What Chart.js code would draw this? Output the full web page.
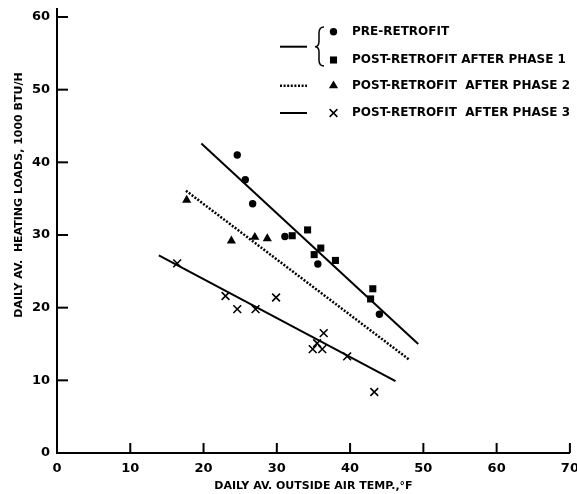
<!DOCTYPE html>
<html>
<head>
<meta charset="utf-8">
<script src="https://cdn.jsdelivr.net/npm/chart.js@4.4.0/dist/chart.umd.min.js"></script>
<style>
  body { margin: 0; background: #fff; }
</style>
</head>
<body>
<canvas id="loadChart" width="577" height="494"></canvas>
<script>

// pre-retrofit (circles)
const preTemp = [24.6, 25.7, 26.7, 31.1, 35.6, 44.0];
const preLoad = [41.0, 37.6, 34.3, 29.8, 26.0, 19.1];

// post-retrofit after phase 1 (squares)
const ph1Temp = [32.1, 34.2, 35.1, 36.0, 38.0, 42.8, 43.1];
const ph1Load = [29.9, 30.7, 27.3, 28.2, 26.5, 21.2, 22.6];

// post-retrofit after phase 2 (triangles)
const ph2Temp = [17.7, 23.8, 27.0, 28.7];
const ph2Load = [34.8, 29.2, 29.7, 29.5];

// post-retrofit after phase 3 (crosses)
const ph3Temp = [16.4, 23.0, 24.6, 27.1, 29.9, 34.9, 35.5, 36.2, 36.4, 39.6, 43.3];
const ph3Load = [26.1, 21.6, 19.8, 19.8, 21.4, 14.3, 15.1, 14.3, 16.5, 13.3, 8.4];

// fitted lines (end points)
const fitPreTemp = [19.7, 49.3];
const fitPreLoad = [42.6, 15.0];
const fitPh2Temp = [17.6, 48.0];
const fitPh2Load = [36.1, 12.9];
const fitPh3Temp = [13.9, 46.2];
const fitPh3Load = [27.2, 9.9];

const xTicks = [0, 10, 20, 30, 40, 50, 60, 70];
const yTicks = [0, 10, 20, 30, 40, 50, 60];

const legendLabels = [
    "PRE-RETROFIT",
    "POST-RETROFIT AFTER PHASE 1",
    "POST-RETROFIT  AFTER PHASE 2",
    "POST-RETROFIT  AFTER PHASE 3"
];
const xTitle = "DAILY AV. OUTSIDE AIR TEMP.,\u00B0F";
const yTitle = "DAILY AV.  HEATING LOADS, 1000 BTU/H";

function toPoints(xs, ys) {
    return xs.map((x, i) => ({ x: x, y: ys[i] }));
}

const FONT = "DejaVu Sans";
Chart.defaults.font.family = FONT;
Chart.defaults.color = "#000";

const DOTS = [2, 1.6];

function lineSet(xs, ys, dash) {
    return {
        data: toPoints(xs, ys),
        showLine: true,
        borderColor: "#000",
        borderWidth: dash ? 2.5 : 2,
        borderDash: dash || [],
        pointRadius: 0,
        fill: false
    };
}

function markSet(xs, ys, style, radius) {
    return {
        data: toPoints(xs, ys),
        pointStyle: style,
        pointRadius: radius,
        pointBackgroundColor: "#000",
        pointBorderColor: "#000",
        pointBorderWidth: style === "crossRot" ? 1.6 : 0
    };
}

// extras: inward tick marks, y title, hand lettered legend
const extras = {
    id: "extras",
    afterDraw(chart) {
        const ctx = chart.ctx;
        const xs = chart.scales.x;
        const ys = chart.scales.y;
        const area = chart.chartArea;

        ctx.save();
        ctx.strokeStyle = "#000";
        ctx.lineWidth = 2;

        // axis stub above 60
        ctx.beginPath();
        ctx.moveTo(area.left, area.top);
        ctx.lineTo(area.left, area.top - 9);
        ctx.stroke();

        xTicks.forEach(v => {
            if (v === 0) return;
            const px = xs.getPixelForValue(v);
            ctx.beginPath();
            ctx.moveTo(px, area.bottom);
            ctx.lineTo(px, area.bottom - 10);
            ctx.stroke();
        });
        yTicks.forEach(v => {
            if (v === 0) return;
            const py = ys.getPixelForValue(v);
            ctx.beginPath();
            ctx.moveTo(area.left, py);
            ctx.lineTo(area.left + 11, py);
            ctx.stroke();
        });

        // y title
        ctx.fillStyle = "#000";
        ctx.font = "bold 11px '" + FONT + "'";
        ctx.textAlign = "center";
        ctx.textBaseline = "middle";
        ctx.save();
        ctx.translate(19, 195);
        ctx.rotate(-Math.PI / 2);
        ctx.fillText(yTitle, 0, 0);
        ctx.restore();

        // legend
        const rows = [31.7, 60, 85.7, 113];
        const styles = [
            { pointStyle: "circle", radius: 3.7, borderWidth: 0 },
            { pointStyle: "rect", radius: 5, borderWidth: 0 },
            { pointStyle: "triangle", radius: 5.3, borderWidth: 0 },
            { pointStyle: "crossRot", radius: 5.5, borderWidth: 1.6 }
        ];
        ctx.lineWidth = 2;
        ctx.beginPath();
        ctx.moveTo(280, 46.7);
        ctx.lineTo(307, 46.7);
        ctx.stroke();

        ctx.lineWidth = 2.5;
        ctx.setLineDash(DOTS);
        ctx.beginPath();
        ctx.moveTo(280, 85.7);
        ctx.lineTo(307, 85.7);
        ctx.stroke();
        ctx.setLineDash([]);

        ctx.lineWidth = 2;
        ctx.beginPath();
        ctx.moveTo(280, 113);
        ctx.lineTo(307, 113);
        ctx.stroke();

        // brace
        ctx.lineWidth = 1.5;
        ctx.beginPath();
        ctx.moveTo(324, 27);
        ctx.quadraticCurveTo(319, 27, 319, 33);
        ctx.lineTo(319, 41);
        ctx.quadraticCurveTo(319, 46.7, 315, 46.7);
        ctx.quadraticCurveTo(319, 46.7, 319, 52);
        ctx.lineTo(319, 60);
        ctx.quadraticCurveTo(319, 66, 324, 66);
        ctx.stroke();

        ctx.font = "bold 12px '" + FONT + "'";
        ctx.textAlign = "left";
        rows.forEach((y, i) => {
            ctx.fillStyle = "#000";
            ctx.strokeStyle = "#000";
            Chart.helpers.drawPoint(ctx, Object.assign({ rotation: 0 }, styles[i]), 333.5, y);
            ctx.fillText(legendLabels[i], 352, y);
        });
        ctx.restore();
    }
};

new Chart(document.getElementById("loadChart"), {
    type: "scatter",
    data: {
        datasets: [
            lineSet(fitPreTemp, fitPreLoad),
            lineSet(fitPh2Temp, fitPh2Load, DOTS),
            lineSet(fitPh3Temp, fitPh3Load),
            markSet(preTemp, preLoad, "circle", 3.7),
            markSet(ph1Temp, ph1Load, "rect", 5),
            markSet(ph2Temp, ph2Load, "triangle", 5.3),
            markSet(ph3Temp, ph3Load, "crossRot", 5.5)
        ]
    },
    options: {
        responsive: false,
        animation: false,
        layout: { padding: { top: 17, right: 7, left: 0, bottom: 0 } },
        plugins: {
            legend: { display: false },
            tooltip: { enabled: false }
        },
        scales: {
            x: {
                type: "linear",
                min: 0,
                max: 70,
                afterBuildTicks: s => { s.ticks = xTicks.map(v => ({ value: v })); },
                afterFit: s => { s.height = 41; s.paddingLeft = 0; s.paddingRight = 0; },
                grid: { display: false, drawTicks: false },
                border: { display: true, color: "#000", width: 2 },
                ticks: { padding: 8, font: { size: 13, weight: "bold" } },
                title: {
                    display: true,
                    text: xTitle,
                    font: { size: 11, weight: "bold" },
                    padding: { top: 0, bottom: 1 }
                }
            },
            y: {
                type: "linear",
                min: 0,
                max: 60,
                afterBuildTicks: s => { s.ticks = yTicks.map(v => ({ value: v })); },
                afterFit: s => { s.width = 57; s.paddingTop = 0; s.paddingBottom = 0; },
                grid: { display: false, drawTicks: false },
                border: { display: true, color: "#000", width: 2 },
                ticks: { padding: 7, font: { size: 13, weight: "bold" } }
            }
        }
    },
    plugins: [extras]
});
</script>
</body>
</html>
